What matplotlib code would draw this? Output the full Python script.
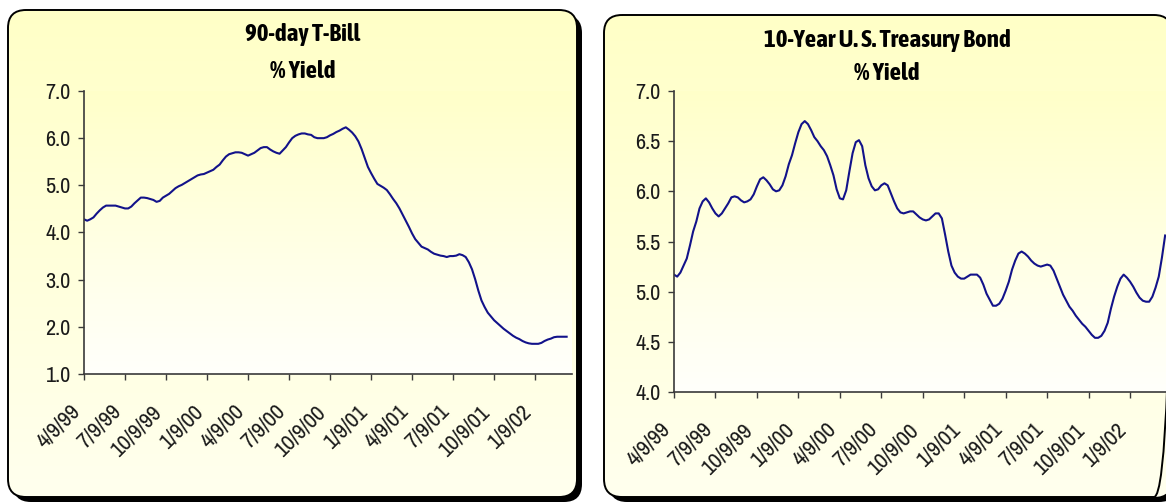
import numpy as np
import matplotlib
matplotlib.use("Agg")
import matplotlib.pyplot as plt
from matplotlib.patches import FancyBboxPatch
from matplotlib import font_manager

# ---- data (weekly observations starting 4/9/99) ----
quarter_labels = ["4/9/99", "7/9/99", "10/9/99", "1/9/00", "4/9/00", "7/9/00",
                  "10/9/00", "1/9/01", "4/9/01", "7/9/01", "10/9/01", "1/9/02"]
label_step = 13  # weeks between labelled dates

tbill_yield = [
    4.28, 4.25, 4.28, 4.32, 4.40, 4.47, 4.53, 4.57, 4.57, 4.57,
    4.57, 4.55, 4.53, 4.51, 4.51, 4.55, 4.62, 4.68, 4.74, 4.74,
    4.73, 4.71, 4.69, 4.65, 4.67, 4.74, 4.78, 4.82, 4.88, 4.94,
    4.98, 5.01, 5.05, 5.09, 5.13, 5.17, 5.21, 5.23, 5.24, 5.27,
    5.30, 5.33, 5.39, 5.44, 5.53, 5.61, 5.66, 5.68, 5.70, 5.70,
    5.69, 5.66, 5.63, 5.66, 5.69, 5.74, 5.79, 5.81, 5.81, 5.76,
    5.72, 5.69, 5.67, 5.74, 5.81, 5.91, 6.00, 6.05, 6.08, 6.10,
    6.10, 6.08, 6.07, 6.02, 6.00, 6.00, 6.00, 6.02, 6.06, 6.09,
    6.13, 6.16, 6.20, 6.23, 6.18, 6.12, 6.04, 5.93, 5.77, 5.58,
    5.39, 5.26, 5.14, 5.03, 4.99, 4.95, 4.90, 4.81, 4.71, 4.62,
    4.51, 4.38, 4.25, 4.12, 3.98, 3.86, 3.78, 3.70, 3.67, 3.64,
    3.59, 3.55, 3.53, 3.51, 3.50, 3.48, 3.50, 3.50, 3.51, 3.54,
    3.52, 3.48, 3.37, 3.22, 3.01, 2.77, 2.56, 2.42, 2.30, 2.22,
    2.14, 2.08, 2.02, 1.96, 1.91, 1.86, 1.81, 1.77, 1.74, 1.70,
    1.67, 1.65, 1.64, 1.64, 1.64, 1.66, 1.70, 1.73, 1.75, 1.78,
    1.79, 1.79, 1.79, 1.79,
]

bond_yield = [
    5.17, 5.15, 5.19, 5.26, 5.33, 5.46, 5.60, 5.70, 5.83, 5.90,
    5.93, 5.89, 5.83, 5.78, 5.75, 5.78, 5.83, 5.88, 5.94, 5.95,
    5.94, 5.91, 5.89, 5.90, 5.92, 5.97, 6.05, 6.12, 6.14, 6.11,
    6.07, 6.02, 6.00, 6.01, 6.06, 6.15, 6.27, 6.36, 6.48, 6.59,
    6.67, 6.70, 6.67, 6.61, 6.54, 6.50, 6.45, 6.41, 6.35, 6.26,
    6.16, 6.02, 5.93, 5.92, 6.01, 6.20, 6.38, 6.49, 6.51, 6.45,
    6.26, 6.13, 6.05, 6.01, 6.02, 6.06, 6.08, 6.06, 5.98, 5.90,
    5.83, 5.79, 5.78, 5.79, 5.80, 5.80, 5.77, 5.74, 5.72, 5.71,
    5.72, 5.75, 5.78, 5.78, 5.73, 5.57, 5.40, 5.26, 5.19, 5.15,
    5.13, 5.13, 5.15, 5.17, 5.17, 5.17, 5.14, 5.07, 4.98, 4.92,
    4.86, 4.86, 4.88, 4.93, 5.01, 5.10, 5.22, 5.31, 5.38, 5.40,
    5.38, 5.35, 5.31, 5.28, 5.26, 5.25, 5.26, 5.27, 5.26, 5.21,
    5.13, 5.05, 4.97, 4.91, 4.85, 4.81, 4.76, 4.72, 4.68, 4.65,
    4.61, 4.57, 4.54, 4.54, 4.56, 4.61, 4.69, 4.83, 4.95, 5.05,
    5.13, 5.17, 5.14, 5.10, 5.05, 4.99, 4.94, 4.91, 4.90, 4.90,
    4.95, 5.04, 5.15, 5.34, 5.56,
]

# ---- fonts: narrow sans for labels, bold narrow sans for titles ----
def _weight(entry):
    w = entry.weight
    if isinstance(w, str):
        return {"bold": 700, "heavy": 800, "black": 900, "semibold": 600,
                "demibold": 600}.get(w.lower(), 400)
    return int(w)


_fonts = font_manager.fontManager.ttflist
_narrow = [f for f in _fonts
           if ("Narrow" in f.name or "Condensed" in f.name)
           and "Extra" not in f.name and "Ultra" not in f.name]
_narrow_regular = sorted({f.name for f in _narrow if 350 <= _weight(f) <= 450})
_narrow_bold = sorted({f.name for f in _narrow if _weight(f) >= 650})

if _narrow_regular:
    TICK_FONT, YTICK_SIZE, XTICK_SIZE = _narrow_regular[0], 16, 16.5
else:
    TICK_FONT, YTICK_SIZE, XTICK_SIZE = "Liberation Sans", 13, 13

_bold_same = [n for n in _narrow_bold if n == TICK_FONT]
if _bold_same:
    TITLE_FONT, TITLE_SIZE = _bold_same[0], 18
elif _narrow_bold:
    TITLE_FONT, TITLE_SIZE = _narrow_bold[0], 18
else:
    TITLE_FONT, TITLE_SIZE = "Liberation Sans", 14

W, H = 1166, 503
LINE_COLOR = "#12128a"
AXIS_COLOR = "#3a3a3a"

fig = plt.figure(figsize=(W / 100, H / 100), dpi=100)
bg = fig.add_axes([0, 0, 1, 1])
bg.set_xlim(0, W)
bg.set_ylim(H, 0)
bg.axis("off")


def vertical_gradient(top_rgb, bottom_rgb, n=256):
    t = np.linspace(0, 1, n)[:, None, None]
    top = np.array(top_rgb, float)[None, None, :]
    bot = np.array(bottom_rgb, float)[None, None, :]
    return top + (bot - top) * t


def panel(x0, y0, x1, y1, plot_rect):
    style = "round,pad=0,rounding_size=18"
    shadow = FancyBboxPatch((x0 + 5, y0 + 5), x1 - x0, y1 - y0, boxstyle=style,
                            fc="black", ec="none", zorder=1)
    bg.add_patch(shadow)
    box = FancyBboxPatch((x0, y0), x1 - x0, y1 - y0, boxstyle=style,
                         fc="none", ec="black", lw=1.4, zorder=4)
    bg.add_patch(box)
    img = vertical_gradient((1.0, 1.0, 0.78), (1.0, 1.0, 0.935))
    im = bg.imshow(img, extent=(x0, x1, y1, y0), aspect="auto",
                   interpolation="bilinear", zorder=2)
    im.set_clip_path(box)
    px0, py0, px1, py1 = plot_rect
    img2 = vertical_gradient((1.0, 1.0, 0.79), (1.0, 1.0, 0.985))
    im2 = bg.imshow(img2, extent=(px0, px1, py1, py0), aspect="auto",
                    interpolation="bilinear", zorder=3)
    im2.set_clip_path(box)
    bg.set_xlim(0, W)
    bg.set_ylim(H, 0)


def add_chart(rect_px, values, ylim, ystep, xmax, title, title_x, title_y):
    x0, y0, x1, y1 = rect_px
    ax = fig.add_axes([x0 / W, 1 - y1 / H, (x1 - x0) / W, (y1 - y0) / H])
    ax.set_facecolor("none")
    idx = np.arange(len(values))
    ax.plot(idx, values, color=LINE_COLOR, lw=1.5, solid_joinstyle="round")
    ax.set_xlim(0, xmax)
    ax.set_ylim(*ylim)
    ax.set_yticks(np.arange(ylim[0], ylim[1] + ystep / 2, ystep))
    ax.yaxis.set_major_formatter(matplotlib.ticker.FormatStrFormatter("%.1f"))
    ax.set_xticks(np.arange(len(quarter_labels)) * label_step)
    ax.set_xticklabels(quarter_labels, rotation=45, ha="right", va="top")
    for side in ("top", "right"):
        ax.spines[side].set_visible(False)
    for side in ("left", "bottom"):
        ax.spines[side].set_color(AXIS_COLOR)
        ax.spines[side].set_linewidth(1.2)
    ax.tick_params(axis="both", direction="out", length=4.5, width=1.0,
                   color=AXIS_COLOR, labelcolor="#1a1a1a")
    ax.tick_params(axis="x", pad=15, labelsize=XTICK_SIZE)
    ax.tick_params(axis="y", pad=5, labelsize=YTICK_SIZE)
    for lab in ax.get_xticklabels() + ax.get_yticklabels():
        lab.set_fontfamily(TICK_FONT)
    line1, line2 = title
    fig.text(title_x / W, 1 - title_y[0] / H, line1, ha="center", va="center",
             fontsize=TITLE_SIZE, fontweight="bold", family=TITLE_FONT)
    fig.text(title_x / W, 1 - title_y[1] / H, line2, ha="center", va="center",
             fontsize=TITLE_SIZE, fontweight="bold", family=TITLE_FONT)
    return ax


# left panel: 90-day T-Bill
left_plot = (84, 91, 572, 374)
panel(8, 10, 577, 497, left_plot)
add_chart(left_plot, tbill_yield, (1.0, 7.0), 1.0, 154.7,
          ("90-day T-Bill", "% Yield"), 303, (34, 71))

# right panel: 10-year Treasury bond (extends past the right edge)
right_plot = (674, 91, 1190, 392)
panel(604, 15, 1172, 497, right_plot)
add_chart(right_plot, bond_yield, (4.0, 7.0), 0.5, 161.8,
          ("10-Year U. S. Treasury Bond", "% Yield"), 887, (40, 74))

fig.savefig("out.png", dpi=100)
